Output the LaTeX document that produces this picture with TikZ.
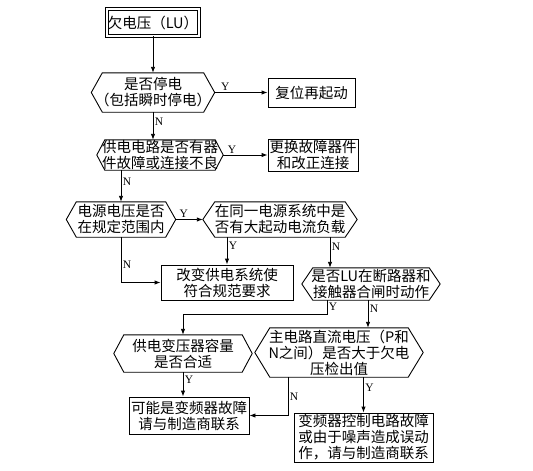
\documentclass[tikz,border=0pt]{standalone}
\usepackage{fontspec}
\newfontfamily\cjk{Noto Sans CJK SC}
\newfontfamily\lat{Liberation Serif}
\usetikzlibrary{arrows.meta,calc}

\begin{document}
\begin{tikzpicture}[x=1pt,y=-1pt,
  txt/.style={font=\cjk\fontsize{14.5}{16}\selectfont,align=center,inner sep=0pt},
  box/.style={txt,draw,line width=.9pt},
  dec/.style={txt},
  lbl/.style={font=\lat\fontsize{11.5}{12}\selectfont,inner sep=1.5pt},
  arr/.style={line width=.9pt,-{Latex[length=6pt,width=4.5pt]}}]
\useasboundingbox (0,0) rectangle (533,471);
% boxes and decisions
\node[box,double,double distance=2pt,minimum width=92pt,minimum height=27pt] (lu) at (153,22.5) {欠电压（LU）};
\node[dec,minimum width=123pt,minimum height=39pt] (stop) at (153,92.5) {是否停电\\（包括瞬时停电）};
\node[box,minimum width=87pt,minimum height=29pt] (reset) at (311.5,92.5) {复位再起动};
\node[dec,minimum width=126pt,minimum height=30pt] (wire) at (160,155) {供电电路是否有器\\件故障或连接不良};
\node[box,minimum width=90pt,minimum height=32pt] (repl) at (313,155) {更换故障器件\\和改正连接};
\node[dec,minimum width=109pt,minimum height=35pt] (volt) at (121,219.5) {电源电压是否\\在规定范围内};
\node[dec,minimum width=154pt,minimum height=35pt] (load) at (280,219.5) {在同一电源系统中是\\否有大起动电流负载};
\node[box,minimum width=132pt,minimum height=35pt] (sys) at (227,282.5) {改变供电系统使\\符合规范要求};
\node[dec,minimum width=138pt,minimum height=32pt] (brk) at (371,284) {是否LU在断路器和\\接触器合闸时动作};
\node[dec,minimum width=138pt,minimum height=37pt] (trf) at (183,353.5) {供电变压器容量\\是否合适};
\node[dec,minimum width=168pt,minimum height=49pt] (dc) at (339,352.5) {主电路直流电压（P和\\N之间）是否大于欠电\\压检出值};
\node[box,minimum width=120pt,minimum height=37pt] (inv) at (189,415.5) {可能是变频器故障\\请与制造商联系};
\node[box,minimum width=139pt,minimum height=49pt] (ctl) at (363.5,437.5) {变频器控制电路故障\\或由于噪声造成误动\\作，请与制造商联系};
% hexagon outlines
\foreach \n/\t in {stop/11,wire/8,volt/10,load/12,brk/11,trf/10,dc/15}
  \draw[line width=.9pt] (\n.west) -- ([xshift=\t pt]\n.north west) -- ([xshift=-\t pt]\n.north east)
    -- (\n.east) -- ([xshift=-\t pt]\n.south east) -- ([xshift=\t pt]\n.south west) -- cycle;
% connectors
\draw[arr] (lu) -- (stop);
\draw[arr] (stop.east) -- node[lbl,above,pos=.2]{Y} (reset.west);
\draw[arr] (stop.south) -- node[lbl,right,pos=.35]{N} (stop.south |- wire.north);
\draw[arr] (wire.east) -- node[lbl,above,pos=.2]{Y} (repl.west);
\draw[arr] (volt.north |- wire.south) -- node[lbl,right,pos=.35]{N} (volt.north);
\draw[arr] (volt.east) -- node[lbl,above,pos=.3]{Y} (load.west);
\draw[arr] (volt.south) |- node[lbl,right,pos=.3]{N} (sys.west);
\draw[arr] (sys.north |- load.south) -- node[lbl,right,pos=.3]{Y} (sys.north);
\draw[arr] ([xshift=-41pt]brk.north |- load.south) -- node[lbl,right,pos=.3]{N} ([xshift=-41pt]brk.north);
\draw[arr] ([xshift=-44pt]brk.south) -- node[lbl,right,pos=.5]{Y} ++(0,14) -| (trf.north);
\draw[arr] ([xshift=29pt]dc.north |- brk.south) -- node[lbl,right,pos=.3]{N} ([xshift=29pt]dc.north);
\draw[arr] (trf.south) -- node[lbl,right,pos=.3]{Y} (trf.south |- inv.north);
\draw[arr] ([xshift=-51pt]dc.south) |- node[lbl,right,pos=.25]{N} (inv.east);
\draw[arr] (ctl.north |- dc.south) -- node[lbl,right,pos=.3]{Y} (ctl.north);
\end{tikzpicture}
\end{document}
